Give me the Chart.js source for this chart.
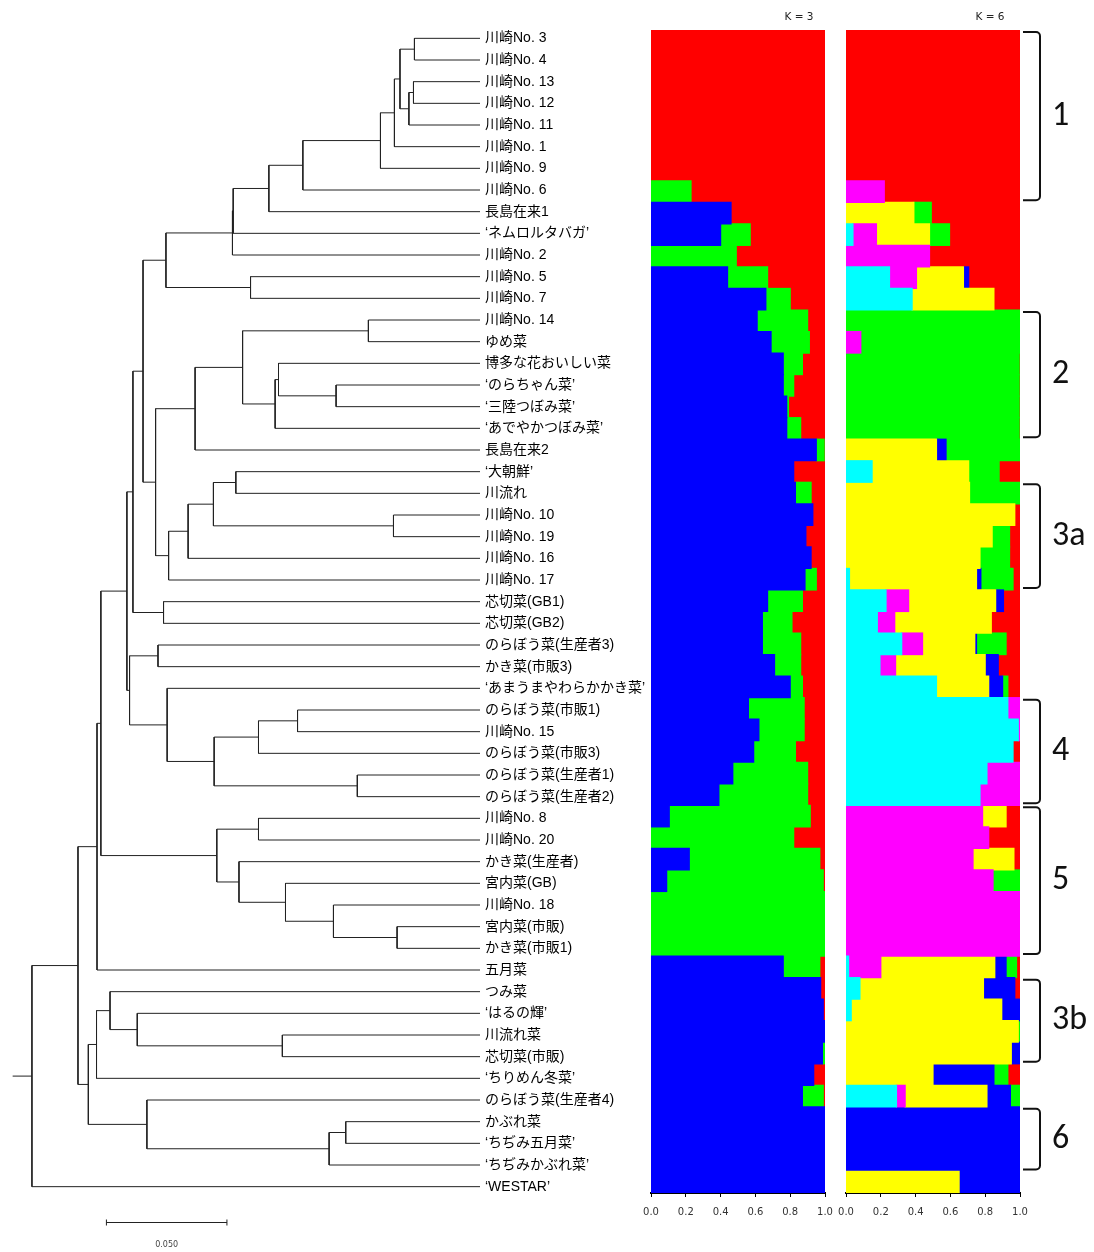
<!DOCTYPE html>
<html lang="ja">
<head>
<meta charset="UTF-8">
<title>Dendrogram with STRUCTURE K = 3 / K = 6</title>
<script src="https://cdn.jsdelivr.net/npm/chart.js"></script>
<style>
    body { margin: 0; background: #fff; }
    #wrap { position: relative; width: 1094px; height: 1252px; }
    canvas { position: absolute; top: 0; }
    #treeChart { left: 0; }
    #k3Chart { left: 640px; }
    #k6Chart { left: 835px; }
</style>
</head>
<body>
<div id="wrap">
    <canvas id="treeChart" width="650" height="1252"></canvas>
    <canvas id="k3Chart" width="200" height="1230"></canvas>
    <canvas id="k6Chart" width="259" height="1230"></canvas>
</div>

<script>
// Cultivars, top to bottom
const cultivars = [
    '川崎No. 3', '川崎No. 4', '川崎No. 13', '川崎No. 12', '川崎No. 11', '川崎No. 1', '川崎No. 9', '川崎No. 6',
    '長島在来1', '‘ネムロルタバガ’', '川崎No. 2', '川崎No. 5', '川崎No. 7', '川崎No. 14', 'ゆめ菜',
    '博多な花おいしい菜', '‘のらちゃん菜’', '‘三陸つぼみ菜’', '‘あでやかつぼみ菜’', '長島在来2', '‘大朝鮮’',
    '川流れ', '川崎No. 10', '川崎No. 19', '川崎No. 16', '川崎No. 17', '芯切菜(GB1)', '芯切菜(GB2)',
    'のらぼう菜(生産者3)', 'かき菜(市販3)', '‘あまうまやわらかかき菜’', 'のらぼう菜(市販1)', '川崎No. 15',
    'のらぼう菜(市販3)', 'のらぼう菜(生産者1)', 'のらぼう菜(生産者2)', '川崎No. 8', '川崎No. 20',
    'かき菜(生産者)', '宮内菜(GB)', '川崎No. 18', '宮内菜(市販)', 'かき菜(市販1)', '五月菜', 'つみ菜',
    '‘はるの輝’', '川流れ菜', '芯切菜(市販)', '‘ちりめん冬菜’', 'のらぼう菜(生産者4)', 'かぶれ菜',
    '‘ちぢみ五月菜’', '‘ちぢみかぶれ菜’', '‘WESTAR’'
];

// Dendrogram merges: [node, child A, child B, height]; numbers are rows of cultivars
const merges = [
    ['A', 1, 2, 0.0272], ['B', 3, 4, 0.0276], ['C', 'B', 5, 0.0295], ['D', 'A', 'C', 0.0332],
    ['E', 'D', 6, 0.0355], ['F', 'E', 7, 0.0413], ['G', 'F', 8, 0.0735], ['H', 'G', 9, 0.0876],
    ['I1', 'H', 10, 0.1024], ['I2', 'I1', 11, 0.1027], ['J', 12, 13, 0.0952], ['K', 'I2', 'J', 0.1303],
    ['L', 14, 15, 0.0463], ['O', 17, 18, 0.0597], ['P', 16, 'O', 0.0836], ['Q', 'P', 19, 0.0850],
    ['M', 'L', 'Q', 0.0985], ['R', 'M', 20, 0.1182], ['S', 21, 22, 0.1013], ['T', 23, 24, 0.0359],
    ['U', 'S', 'T', 0.1106], ['V', 'U', 25, 0.1211], ['W', 'V', 26, 0.1292], ['X', 'R', 'W', 0.1346],
    ['Y', 'K', 'X', 0.1398], ['Z', 27, 28, 0.1313], ['AA', 'Y', 'Z', 0.1440], ['BB', 29, 30, 0.1336],
    ['HH', 32, 33, 0.0757], ['II', 'HH', 34, 0.0919], ['JJ', 35, 36, 0.0509], ['GG', 'II', 'JJ', 0.1103],
    ['FF', 31, 'GG', 0.1298], ['CC', 'BB', 'FF', 0.1454], ['EE', 'AA', 'CC', 0.1465], ['KK', 37, 38, 0.0919],
    ['LL', 42, 43, 0.0344], ['MM', 41, 'LL', 0.0608], ['NN', 40, 'MM', 0.0807], ['OO', 39, 'NN', 0.1000],
    ['PP', 'KK', 'OO', 0.1092], ['QQ', 'EE', 'PP', 0.1573], ['RR', 'QQ', 44, 0.1589], ['TT', 47, 48, 0.0820],
    ['UU', 46, 'TT', 0.1422], ['VV', 45, 'UU', 0.1535], ['WW', 'VV', 49, 0.1591], ['XX', 51, 52, 0.0557],
    ['YY', 'XX', 53, 0.0626], ['ZZ', 50, 'YY', 0.1382], ['AB', 'WW', 'ZZ', 0.1625], ['SS', 'RR', 'AB', 0.1668],
    ['ROOT', 'SS', 54, 0.1859]
];
const rootStem = 0.1939;
const scaleBarStart = 0.155;
const scaleBarLength = 0.05;

// STRUCTURE, K = 3 (ancestry proportions per cultivar)
const k3Blue = [
    0, 0, 0, 0, 0, 0, 0, 0, .46, .40,
    0, .44, .66, .61, .69, .76, .76, .78, .78, .95,
    .82, .83, .93, .89, .92, .885, .67, .64, .64, .71,
    .80, .56, .62, .59, .47, .39, .105, 0, .22, .09,
    0, 0, 0, .76, .975, .99, 1, .985, .935, .87,
    1, 1, 1, 1
];
const k3Green = [
    0, 0, 0, 0, 0, 0, 0, .23, 0, .17,
    .49, .23, .14, .29, .22, .11, .06, .01, .08, .045,
    0, .09, 0, 0, 0, .065, .20, .17, .22, .15,
    .07, .32, .26, .24, .43, .51, .81, .82, .75, .90,
    1, 1, 1, .21, 0, 0, 0, .015, 0, .12,
    0, 0, 0, 0
];
const k3Red = [
    1, 1, 1, 1, 1, 1, 1, .77, .54, .43,
    .51, .33, .20, .10, .09, .13, .18, .21, .14, .005,
    .18, .08, .07, .11, .08, .05, .13, .19, .14, .14,
    .13, .12, .12, .17, .10, .10, .085, .18, .03, .01,
    0, 0, 0, .03, .025, .01, 0, 0, .065, .01,
    0, 0, 0, 0
];

// STRUCTURE, K = 6
const k6Cyan = [
    0, 0, 0, 0, 0, 0, 0, 0, 0, .04,
    0, .25, .38, 0, 0, 0, 0, 0, 0, 0,
    .15, 0, 0, 0, 0, .02, .23, .18, .32, .195,
    .52, .93, .99, .96, .81, .77, 0, 0, 0, 0,
    0, 0, 0, .015, .08, .03, 0, 0, 0, .29,
    0, 0, 0, 0
];
const k6Magenta = [
    0, 0, 0, 0, 0, 0, 0, .22, 0, .135,
    .48, .155, 0, 0, .085, 0, 0, 0, 0, 0,
    0, 0, 0, 0, 0, 0, .13, .10, .12, .09,
    0, .07, .01, 0, .19, .23, .785, .82, .73, .845,
    1, 1, 1, .185, 0, 0, 0, 0, 0, .05,
    0, 0, 0, 0
];
const k6Yellow = [
    0, 0, 0, 0, 0, 0, 0, 0, .39, .305,
    0, .27, .47, 0, 0, 0, 0, 0, 0, .52,
    .555, .71, .97, .84, .77, .73, .50, .555, .30, .515,
    .30, 0, 0, 0, 0, 0, .135, 0, .235, 0,
    0, 0, 0, .655, .71, .865, .99, .95, .50, .47,
    0, 0, 0, .65
];
const k6Blue = [
    0, 0, 0, 0, 0, 0, 0, 0, 0, 0,
    0, .03, 0, 0, 0, 0, 0, 0, 0, .055,
    0, 0, 0, 0, 0, .025, .045, 0, .01, .075,
    .08, 0, 0, 0, 0, 0, 0, 0, 0, 0,
    0, 0, 0, .065, .18, .105, 0, .05, .35, .135,
    1, 1, 1, .35
];
const k6Green = [
    0, 0, 0, 0, 0, 0, 0, 0, .10, .115,
    0, 0, 0, 1, .915, .995, .995, .995, .995, .425,
    .175, .29, 0, .10, .17, .185, 0, 0, .17, 0,
    .03, 0, 0, 0, 0, 0, 0, 0, 0, .155,
    0, 0, 0, .06, 0, 0, .01, 0, .08, .055,
    0, 0, 0, 0
];
const k6Red = [
    1, 1, 1, 1, 1, 1, 1, .78, .51, .405,
    .52, .295, .15, 0, 0, .005, .005, .005, .005, 0,
    .12, 0, .03, .06, .06, .04, .095, .165, .08, .125,
    .07, 0, 0, .04, 0, 0, .08, .18, .035, 0,
    0, 0, 0, .02, .03, 0, 0, 0, .07, 0,
    0, 0, 0, 0
];

// Groups marked with brackets on the right
const groupLabels = ['1', '2', '3a', '4', '5', '3b', '6'];
const groupFirst = [1, 14, 22, 32, 37, 45, 51];
const groupLast = [8, 19, 26, 36, 43, 48, 53];

Chart.defaults.animation = false;
Chart.defaults.events = [];
Chart.defaults.plugins.legend.display = false;
Chart.defaults.plugins.tooltip.enabled = false;

// Build the elbow lines of the tree
const nodePos = {};
cultivars.forEach((c, i) => { nodePos[i + 1] = { h: 0, y: i + 1 }; });
const treeSets = [];
function treeLine(points) {
    return { data: points, showLine: true, borderColor: '#222', borderWidth: 1, pointRadius: 0, tension: 0 };
}
merges.forEach(([id, a, b, h]) => {
    const p = nodePos[a], q = nodePos[b];
    nodePos[id] = { h: h, y: (p.y + q.y) / 2 };
    treeSets.push(treeLine([{ x: p.h, y: p.y }, { x: h, y: p.y }, { x: h, y: q.y }, { x: q.h, y: q.y }]));
});
const root = nodePos['ROOT'];
treeSets.push(treeLine([{ x: root.h, y: root.y }, { x: rootStem, y: root.y }]));

const scaleBarPlugin = {
    id: 'scaleBar',
    afterDraw(chart) {
        const { ctx, scales: { x } } = chart;
        const a = x.getPixelForValue(scaleBarStart);
        const b = x.getPixelForValue(scaleBarStart - scaleBarLength);
        const yy = 1222.5;
        ctx.save();
        ctx.strokeStyle = '#222';
        ctx.lineWidth = 1;
        ctx.beginPath();
        ctx.moveTo(a, yy); ctx.lineTo(b, yy);
        ctx.moveTo(a, yy - 3); ctx.lineTo(a, yy + 3);
        ctx.moveTo(b, yy - 3); ctx.lineTo(b, yy + 3);
        ctx.stroke();
        ctx.fillStyle = '#444';
        ctx.font = '8px "DejaVu Sans", sans-serif';
        ctx.textAlign = 'center';
        ctx.textBaseline = 'middle';
        ctx.fillText(scaleBarLength.toFixed(3), (a + b) / 2, 1245);
        ctx.restore();
    }
};

new Chart(document.getElementById('treeChart'), {
    type: 'scatter',
    data: { datasets: treeSets },
    options: {
        responsive: false,
        layout: { padding: { left: 10, right: 0, top: 27.5, bottom: 54.5 } },
        scales: {
            x: { type: 'linear', reverse: true, min: 0, max: 0.195, display: false },
            y: {
                type: 'linear', reverse: true, min: 0.5, max: 54.5, position: 'right',
                grid: { display: false, drawTicks: false },
                border: { display: false },
                afterBuildTicks: scale => { scale.ticks = cultivars.map((c, i) => ({ value: i + 1 })); },
                afterFit: scale => { scale.width = 170; },
                ticks: {
                    autoSkip: false,
                    padding: 5,
                    color: '#000',
                    font: { family: "'Liberation Sans', 'Noto Sans CJK JP', sans-serif", size: 14 },
                    callback: v => cultivars[v - 1]
                }
            }
        }
    },
    plugins: [scaleBarPlugin]
});

const panelTitle = {
    id: 'panelTitle',
    afterDraw(chart, args, opts) {
        const { ctx, chartArea } = chart;
        ctx.save();
        ctx.font = '10.5px "DejaVu Sans", sans-serif';
        ctx.fillStyle = '#222';
        ctx.textAlign = 'center';
        ctx.textBaseline = 'middle';
        ctx.fillText(opts.text, chartArea.right - opts.fromRight, 17);
        ctx.restore();
    }
};

const bracketPlugin = {
    id: 'brackets',
    afterDraw(chart) {
        const { ctx, chartArea, scales: { y } } = chart;
        const half = (y.getPixelForValue(1) - y.getPixelForValue(0)) / 2;
        const x0 = chartArea.right + 3, x1 = chartArea.right + 20;
        ctx.save();
        ctx.strokeStyle = '#111';
        ctx.fillStyle = '#111';
        ctx.lineWidth = 2;
        ctx.font = '34px Carlito, Lato, sans-serif';
        ctx.textAlign = 'left';
        ctx.textBaseline = 'middle';
        groupLabels.forEach((g, i) => {
            const top = y.getPixelForValue(groupFirst[i] - 1) - half + 2;
            const bot = y.getPixelForValue(groupLast[i] - 1) + half - 2;
            ctx.beginPath();
            ctx.moveTo(x0, top);
            ctx.arcTo(x1, top, x1, bot, 4);
            ctx.arcTo(x1, bot, x0, bot, 4);
            ctx.lineTo(x0, bot);
            ctx.stroke();
            ctx.fillText(g, chartArea.right + 32, (top + bot) / 2);
        });
        ctx.restore();
    }
};

function structureOptions(title, fromRight, padRight) {
    return {
        indexAxis: 'y',
        responsive: false,
        layout: { padding: { left: 11, right: padRight, top: 30, bottom: 0 } },
        datasets: { bar: { barPercentage: 1, categoryPercentage: 1, borderWidth: 0, inflateAmount: 0.6 } },
        scales: {
            x: {
                stacked: true, min: 0, max: 1,
                grid: { drawOnChartArea: false, tickLength: 4, color: '#000', lineWidth: 1 },
                border: { color: '#000', width: 2 },
                // fixed axis height; edge labels must not push the plot inwards
                afterFit: scale => { scale.height = 37; scale.paddingLeft = 0; scale.paddingRight = 0; },
                ticks: {
                    stepSize: 0.2, padding: 9, color: '#333',
                    font: { family: "'DejaVu Sans', sans-serif", size: 10 },
                    callback: v => v.toFixed(1)
                }
            },
            y: { stacked: true, display: false }
        },
        plugins: { panelTitle: { text: title, fromRight: fromRight } }
    };
}

// empty shares are left out so they do not leave slivers
function bars(label, values, color) {
    return { label: label, data: values.map(v => v || null), backgroundColor: color };
}

new Chart(document.getElementById('k3Chart'), {
    type: 'bar',
    data: {
        labels: cultivars,
        datasets: [
            bars('Blue', k3Blue, '#0000ff'),
            bars('Green', k3Green, '#00ff00'),
            bars('Red', k3Red, '#ff0000')
        ]
    },
    options: structureOptions('K = 3', 26, 15),
    plugins: [panelTitle]
});

new Chart(document.getElementById('k6Chart'), {
    type: 'bar',
    data: {
        labels: cultivars,
        datasets: [
            bars('Cyan', k6Cyan, '#00ffff'),
            bars('Magenta', k6Magenta, '#ff00ff'),
            bars('Yellow', k6Yellow, '#ffff00'),
            bars('Blue', k6Blue, '#0000ff'),
            bars('Green', k6Green, '#00ff00'),
            bars('Red', k6Red, '#ff0000')
        ]
    },
    options: structureOptions('K = 6', 30, 74),
    plugins: [panelTitle, bracketPlugin]
});
</script>
</body>
</html>
